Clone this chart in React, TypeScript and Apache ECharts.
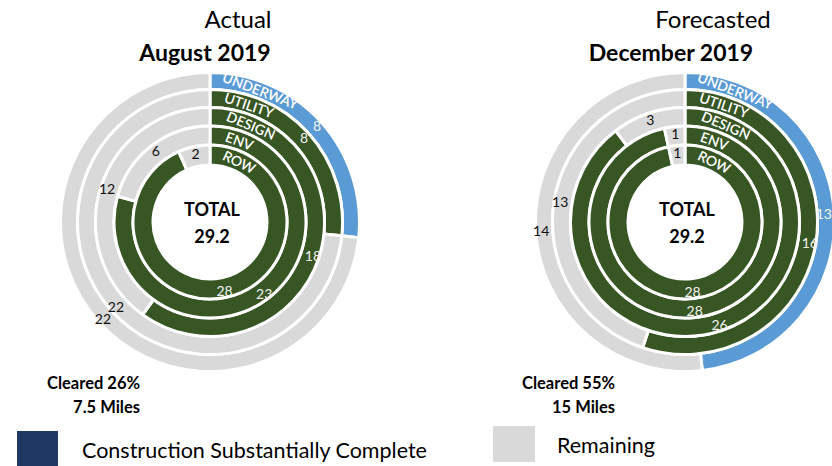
import React, { useEffect, useRef } from "react";
import * as echarts from "echarts";

const ringNames = ["ROW", "ENV", "DESIGN", "UTILITY", "UNDERWAY"];
const actualDone = [28, 23, 18, 8, 8];
const actualRemaining = [2, 6, 12, 22, 22];
const forecastDone = [28, 28, 26, 16, 13];
const forecastRemaining = [1, 1, 3, 13, 14];
const totalMiles = "29.2";
const panelTitles = ["Actual", "Forecasted"];
const panelDates = ["August 2019", "December 2019"];
const clearedPct = ["Cleared 26%", "Cleared 55%"];
const clearedMiles = ["7.5 Miles", "15 Miles"];
const legendLabels = ["Construction Substantially Complete", "Remaining"];

const GREEN = "#375623";
const BLUE = "#5b9bd5";
const GRAY = "#d9d9d9";
const NAVY = "#1f3864";
const FONT = "Lato, 'Open Sans', sans-serif";

const CENTERS: [number, number][] = [
  [210, 222],
  [685, 222],
];
const BOUNDS = [57, 77, 96, 114.5, 132.5, 149.5];
const WORD_ANGLES = [26, 20, 23, 18.5, 21];

export default function App() {
  const ref = useRef<HTMLDivElement>(null);
  useEffect(() => {
    if (!ref.current) return;
    const chart = echarts.init(ref.current, undefined, { renderer: "svg" });
    const series: any[] = [];
    const graphic: any[] = [];
    const panels = [
      [actualDone, actualRemaining],
      [forecastDone, forecastRemaining],
    ];
    panels.forEach(([done, rem], p) => {
      const [cx, cy] = CENTERS[p];
      // outer rings first so that inner rings' labels are drawn on top
      const order = ringNames.map((_, i) => i).reverse();
      order.forEach((i) => {
        const name = ringNames[i];
        const doneColor = i === 4 ? BLUE : GREEN;
        const edgeShift = p === 1 && i === 4 ? -5 : 0;
        series.push({
          type: "pie",
          name: `${panelDates[p]} ${name}`,
          center: [cx, cy],
          radius: [BOUNDS[i], BOUNDS[i + 1]],
          startAngle: 90,
          clockwise: true,
          silent: true,
          animation: false,
          itemStyle: { borderColor: "#fff", borderWidth: 3 },
          label: {
            show: true,
            position: "inside",
            formatter: "{c}",
            fontFamily: FONT,
            fontSize: 14,
          },
          labelLayout: { hideOverlap: false },
          labelLine: { show: false },
          emphasis: { disabled: true },
          data: [
            {
              value: done[i],
              name: "done",
              itemStyle: { color: doneColor },
              label: { color: "#f2f2f2", offset: [edgeShift, 0] },
            },
            {
              value: rem[i],
              name: "remaining",
              itemStyle: { color: GRAY },
              label: { color: "#111" },
            },
          ],
        });
        const r = (BOUNDS[i] + BOUNDS[i + 1]) / 2;
        const a = (WORD_ANGLES[i] * Math.PI) / 180;
        graphic.push({
          type: "text",
          x: cx + r * Math.sin(a),
          y: cy - r * Math.cos(a),
          rotation: -a,
          silent: true,
          z: 100,
          style: {
            text: name,
            fill: "#fff",
            fontFamily: FONT,
            fontSize: 14,
            fontWeight: 600,
            align: "center",
            verticalAlign: "middle",
          },
        });
      });
      graphic.push({
        type: "text",
        x: cx + 2,
        y: cy - 13,
        z: 100,
        style: {
          text: "TOTAL",
          fill: "#000",
          fontFamily: FONT,
          fontSize: 18,
          fontWeight: "bold",
          align: "center",
          verticalAlign: "middle",
        },
      });
      graphic.push({
        type: "text",
        x: cx + 2,
        y: cy + 14,
        z: 100,
        style: {
          text: totalMiles,
          fill: "#000",
          fontFamily: FONT,
          fontSize: 18,
          fontWeight: "bold",
          align: "center",
          verticalAlign: "middle",
        },
      });
    });

    const titleX = [238, 713];
    const dateX = [205, 671];
    [0, 1].forEach((p) => {
      graphic.push({
        type: "text",
        x: titleX[p],
        y: 18,
        style: {
          text: panelTitles[p],
          fill: "#000",
          fontFamily: FONT,
          fontSize: 24,
          align: "center",
          verticalAlign: "middle",
        },
      });
      graphic.push({
        type: "text",
        x: dateX[p],
        y: 52,
        style: {
          text: panelDates[p],
          fill: "#000",
          fontFamily: FONT,
          fontSize: 23,
          fontWeight: "bold",
          align: "center",
          verticalAlign: "middle",
        },
      });
    });

    const clearedRight = [140, 615];
    [0, 1].forEach((p) => {
      graphic.push({
        type: "text",
        x: clearedRight[p],
        y: 383,
        style: {
          text: clearedPct[p],
          fill: "#000",
          fontFamily: FONT,
          fontSize: 16.5,
          fontWeight: "bold",
          align: "right",
          verticalAlign: "middle",
        },
      });
      graphic.push({
        type: "text",
        x: clearedRight[p],
        y: 407,
        style: {
          text: clearedMiles[p],
          fill: "#000",
          fontFamily: FONT,
          fontSize: 16.5,
          fontWeight: "bold",
          align: "right",
          verticalAlign: "middle",
        },
      });
    });

    graphic.push({
      type: "rect",
      shape: { x: 17, y: 431, width: 41, height: 36 },
      style: { fill: NAVY },
    });
    graphic.push({
      type: "text",
      x: 82,
      y: 450,
      style: {
        text: legendLabels[0],
        fill: "#000",
        fontFamily: FONT,
        fontSize: 21.5,
        align: "left",
        verticalAlign: "middle",
      },
    });
    graphic.push({
      type: "rect",
      shape: { x: 493, y: 426, width: 42, height: 36 },
      style: { fill: GRAY },
    });
    graphic.push({
      type: "text",
      x: 557,
      y: 445,
      style: {
        text: legendLabels[1],
        fill: "#000",
        fontFamily: FONT,
        fontSize: 21.5,
        align: "left",
        verticalAlign: "middle",
      },
    });

    chart.setOption({
      animation: false,
      backgroundColor: "#fff",
      series,
      graphic,
    });
    return () => chart.dispose();
  }, []);
  return (
    <div
      ref={ref}
      style={{ position: "absolute", left: 0, top: 0, width: 832, height: 466 }}
    />
  );
}
